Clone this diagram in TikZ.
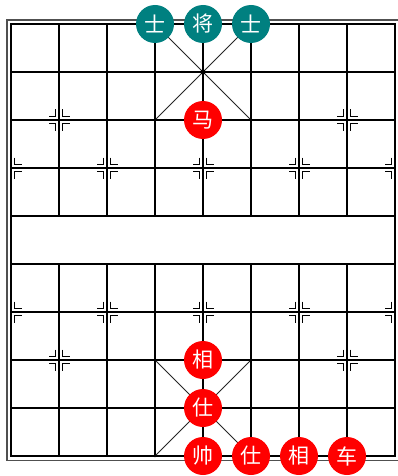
\documentclass[tikz,border=0pt]{standalone}
\usepackage{fontspec}
\newfontfamily\cjk{Noto Sans CJK SC}
\definecolor{teal}{RGB}{0,128,128}
\definecolor{framegray}{RGB}{80,80,80}
\begin{document}
\begin{tikzpicture}[x=1pt,y=-1pt,
  gridline/.style={black,line width=1.7pt},
  diag/.style={black!85,line width=0.9pt},
  marker/.style={black,line width=1.5pt},
  piece/.style={circle,minimum size=38pt,inner sep=0pt,text=white,font=\cjk\fontsize{21}{21}\selectfont},
  redp/.style={piece,fill=red},
  blackp/.style={piece,fill=teal},
  leftcorners/.pic={
    \draw[marker] (-3.5,-10.5) -- (-3.5,-3.5) -- (-10.5,-3.5);
    \draw[marker] (-3.5,10.5) -- (-3.5,3.5) -- (-10.5,3.5);},
  rightcorners/.pic={
    \draw[marker] (3.5,-10.5) -- (3.5,-3.5) -- (10.5,-3.5);
    \draw[marker] (3.5,10.5) -- (3.5,3.5) -- (10.5,3.5);},
  fullmark/.pic={\pic {leftcorners}; \pic {rightcorners};}]
\useasboundingbox (0,0) rectangle (398,476);
\fill[white] (0,0) rectangle (398,476);
% outer frame
\draw[framegray,line width=1.8pt] (7,20) rectangle (399,460.5);
% horizontal lines
\foreach \j in {0,...,9} \draw[gridline] (11,24+48*\j) -- (395,24+48*\j);
% vertical lines
\foreach \i in {1,...,7} {
  \draw[gridline] (11+48*\i,24) -- (11+48*\i,216);
  \draw[gridline] (11+48*\i,264) -- (11+48*\i,456);
}
\draw[black,line width=2.4pt] (11,24) rectangle (395,456);
% palace diagonals
\coordinate (ptl) at (155,24);
\coordinate (ptr) at (251,24);
\coordinate (pbl) at (155,120);
\coordinate (pbr) at (251,120);
\coordinate (qtl) at (155,360);
\coordinate (qtr) at (251,360);
\coordinate (qbl) at (155,456);
\coordinate (qbr) at (251,456);
\draw[diag] (ptl) -- (pbr);
\draw[diag] (ptr) -- (pbl);
\draw[diag] (qtl) -- (qbr);
\draw[diag] (qtr) -- (qbl);
\fill (203,72) circle (2.6);
\foreach \c in {pbl,pbr,qtl,qtr,qbl} \fill (\c) circle (1.4);
% position marks
\foreach \p in {(59,120),(347,120),(107,168),(203,168),(299,168),(107,312),(203,312),(299,312),(59,360),(347,360)}
  \pic at \p {fullmark};
\foreach \p in {(11,168),(11,312)} \pic at \p {rightcorners};
\foreach \p in {(395,168),(395,312)} \pic at \p {leftcorners};
% pieces
\node[blackp] (ba1) at (155,24) {士};
\node[blackp] (bk) at (203,24) {将};
\node[blackp] (ba2) at (251,24) {士};
\node[redp] (rh) at (203,120) {马};
\node[redp] (re1) at (203,360) {相};
\node[redp] (ra1) at (203,408) {仕};
\node[redp] (rk) at (203,456) {帅};
\node[redp] (ra2) at (251,456) {仕};
\node[redp] (re2) at (299,456) {相};
\node[redp] (rr) at (347,456) {车};
\end{tikzpicture}
\end{document}
